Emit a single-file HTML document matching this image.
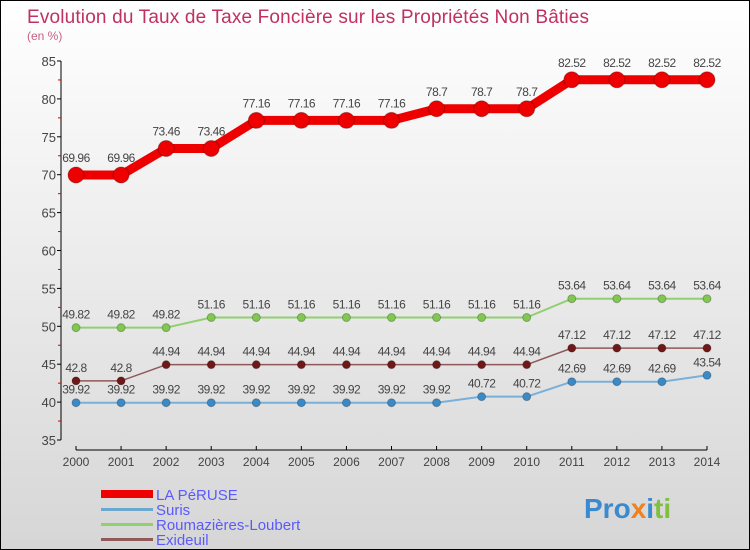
<!DOCTYPE html>
<html><head><meta charset="utf-8"><style>
body{margin:0}
#c{width:748px;height:548px;border:1px solid #000;background:linear-gradient(#fff,#d6d6d6);position:relative;font-family:"Liberation Sans",sans-serif;overflow:hidden}
</style></head><body>
<div id="c">
<svg id="s" width="748" height="548" style="position:absolute;left:0;top:0">
<text x="26" y="22" font-size="19" textLength="562" fill="#c03060">Evolution du Taux de Taxe Foncière sur les Propriétés Non Bâties</text>
<text x="26" y="39" font-size="12" fill="#c86080">(en %)</text>
<g id="ax"></g><g id="ser"></g>
<g>
<rect x="100" y="489" width="52" height="8" fill="#e00"/>
<text x="155" y="499" font-size="15" fill="#5a5aff">LA PéRUSE</text>
<rect x="100" y="507" width="52" height="3" fill="#6aa8d0"/>
<text x="155" y="514" font-size="15" fill="#5a5aff">Suris</text>
<rect x="100" y="522" width="52" height="3" fill="#90d070"/>
<text x="155" y="529" font-size="15" fill="#5a5aff">Roumazières-Loubert</text>
<rect x="100" y="537" width="52" height="3" fill="#905858"/>
<text x="155" y="544" font-size="15" fill="#5a5aff">Exideuil</text>
</g>
<text x="583" y="517" font-size="28" font-weight="bold"><tspan fill="#3a8ad0">Pro</tspan><tspan fill="#f08020">x</tspan><tspan fill="#3a8ad0">i</tspan><tspan fill="#80c040">ti</tspan></text>
</svg>
</div>
<script>
const years=[2000,2001,2002,2003,2004,2005,2006,2007,2008,2009,2010,2011,2012,2013,2014];
const laPeruse=[69.96,69.96,73.46,73.46,77.16,77.16,77.16,77.16,78.7,78.7,78.7,82.52,82.52,82.52,82.52];
const suris=[39.92,39.92,39.92,39.92,39.92,39.92,39.92,39.92,39.92,40.72,40.72,42.69,42.69,42.69,43.54];
const roumazieres=[49.82,49.82,49.82,51.16,51.16,51.16,51.16,51.16,51.16,51.16,51.16,53.64,53.64,53.64,53.64];
const exideuil=[42.8,42.8,44.94,44.94,44.94,44.94,44.94,44.94,44.94,44.94,44.94,47.12,47.12,47.12,47.12];
const yTicks=[35,40,45,50,55,60,65,70,75,80,85];
const NS="http://www.w3.org/2000/svg";
const X=i=>75+i*(706-75)/(years.length-1);
const Y=v=>439-(v-35)*(439-60)/50;
function el(t,a,p){const e=document.createElementNS(NS,t);for(const k in a)e.setAttribute(k,a[k]);p.appendChild(e);return e;}
const ax=document.getElementById('ax'),ser=document.getElementById('ser');
const yl=el('line',{x1:60,y1:60,x2:60,y2:439,stroke:'#000'},ax);


yTicks.forEach((v,i)=>{
 el('line',{x1:56,x2:60,y1:Y(v),y2:Y(v),stroke:'#000'},ax);
 if(i<yTicks.length-1)el('line',{x1:57,x2:60,y1:Y(v+2.5),y2:Y(v+2.5),stroke:'#d00'},ax);
 const t=el('text',{x:55,y:Y(v)+5,'text-anchor':'end','font-size':13,fill:'#444'},ax);t.textContent=v;
 
 
});
const xl=el('line',{x1:X(0),y1:449,x2:X(years.length-1),y2:449,stroke:'#000'},ax);


years.forEach((y,i)=>{
 el('line',{x1:X(i),x2:X(i),y1:445,y2:449,stroke:'#000'},ax);
 const t=el('text',{x:X(i),y:465,'text-anchor':'middle','font-size':12,fill:'#444'},ax);t.textContent=y;
 
 
});
function series(name,data,color,dot,w,r,fs){
 const g=el('g',{},ser);
 
 
 el('polyline',{points:data.map((v,i)=>X(i)+','+Y(v)).join(' '),fill:'none',stroke:color,'stroke-width':w,'stroke-linejoin':'round'},g);
 data.forEach((v,i)=>{
  const c=el('circle',{cx:X(i),cy:Y(v),r:r,fill:dot,stroke:'rgba(0,0,0,0.25)'},g);
  
  
  const t=el('text',{x:X(i),y:Y(v)-(r+5),'text-anchor':'middle','font-size':fs,fill:'#444','letter-spacing':'-0.5'},g);t.textContent=v;
  
  
 });
}
series('suris',suris,'#7ab0d8','#3a8ac8',2,4,12);
series('exideuil',exideuil,'#905858','#701818',1.5,4,12);
series('roumazieres',roumazieres,'#90d070','#80c850',2,4,12);
series('la-peruse',laPeruse,'#e00','#e00',9,8,12);
</script>
</body></html>
